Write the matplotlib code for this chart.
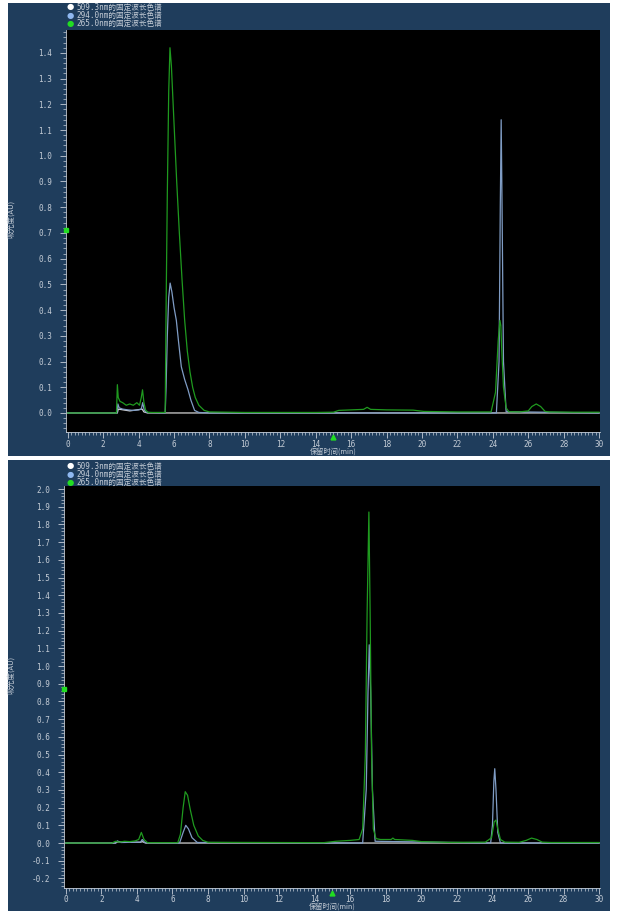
import matplotlib
matplotlib.use("Agg")
import matplotlib.pyplot as plt
import matplotlib.patches as mpatches
import matplotlib.transforms as mtransforms
from matplotlib.ticker import MultipleLocator

# ---- data (time in min, absorbance in AU) ----
legend_labels = ["509.3nm的固定波长色谱", "294.0nm的固定波长色谱", "265.0nm的固定波长色谱"]

# upper run
t1_green = [0, 2.75, 2.8, 2.85, 2.95, 3.1, 3.3, 3.5, 3.7, 3.9, 4.05, 4.15, 4.22, 4.3,
            4.4, 4.55, 5.5, 5.55, 5.62, 5.7, 5.77, 5.85, 5.95, 6.05, 6.15, 6.3, 6.45,
            6.6, 6.75, 6.9, 7.05, 7.2, 7.4, 7.7, 8.0, 10, 14, 15.0, 15.3, 16.0, 16.7,
            16.9, 17.1, 18, 19.5, 20.1, 22, 23.9, 24.15, 24.3, 24.4, 24.45, 24.5, 24.6,
            24.75, 24.9, 25.5, 26.0, 26.2, 26.45, 26.7, 26.95, 27.2, 28.5, 30]
v1_green = [0, 0, 0.11, 0.06, 0.045, 0.04, 0.03, 0.035, 0.03, 0.04, 0.03, 0.06, 0.09, 0.04,
            0.01, 0.002, 0.002, 0.4, 0.85, 1.25, 1.42, 1.35, 1.2, 1.05, 0.9, 0.7, 0.52,
            0.36, 0.24, 0.16, 0.1, 0.06, 0.03, 0.01, 0.004, 0.002, 0.002, 0.003, 0.01,
            0.012, 0.014, 0.022, 0.014, 0.012, 0.011, 0.006, 0.004, 0.004, 0.08, 0.28,
            0.36, 0.34, 0.25, 0.1, 0.02, 0.005, 0.004, 0.008, 0.025, 0.035, 0.025, 0.006,
            0.004, 0.003, 0.003]
t1_blue = [0, 2.78, 2.83, 2.9, 3.1, 3.4, 3.7, 4.0, 4.15, 4.23, 4.32, 4.45, 5.5, 5.55, 5.62,
           5.7, 5.78, 5.88, 6.0, 6.13, 6.25, 6.41, 6.6, 6.79, 6.95, 7.16, 7.4, 8, 24.2,
           24.35, 24.42, 24.47, 24.52, 24.6, 24.75, 30]
v1_blue = [0, 0, 0.035, 0.02, 0.015, 0.012, 0.01, 0.012, 0.015, 0.04, 0.01, 0.002, 0.0, 0.1,
           0.3, 0.45, 0.505, 0.47, 0.41, 0.36, 0.28, 0.18, 0.13, 0.09, 0.05, 0.01, 0.002, 0,
           0, 0.2, 0.8, 1.14, 0.8, 0.2, 0.005, 0]
t1_white = [0, 2.8, 2.85, 3.5, 4.2, 4.3, 4.5, 30]
v1_white = [0, 0, 0.015, 0.008, 0.015, 0.004, 0, 0]

# lower run
t2_green = [0, 2.6, 2.8, 3.0, 3.3, 3.6, 3.9, 4.1, 4.25, 4.4, 4.6, 6.3, 6.45, 6.6, 6.72,
            6.85, 7.0, 7.2, 7.45, 7.7, 8.0, 14.5, 15.2, 16.0, 16.5, 16.7, 16.85, 16.95,
            17.05, 17.12, 17.2, 17.3, 17.45, 17.7, 18.3, 18.4, 18.5, 19.5, 20.0, 21.5,
            23.6, 23.95, 24.1, 24.2, 24.3, 24.45, 24.7, 25.5, 25.9, 26.2, 26.5, 26.8,
            27.3, 30]
v2_green = [0, 0, 0.01, 0.005, 0.01, 0.008, 0.012, 0.02, 0.06, 0.02, 0.002, 0.002, 0.05,
            0.2, 0.29, 0.27, 0.19, 0.1, 0.04, 0.015, 0.004, 0.002, 0.01, 0.015, 0.02, 0.08,
            0.5, 1.3, 1.87, 1.3, 0.5, 0.08, 0.025, 0.02, 0.02, 0.028, 0.02, 0.015, 0.008,
            0.004, 0.005, 0.03, 0.12, 0.13, 0.08, 0.02, 0.005, 0.004, 0.015, 0.028, 0.02,
            0.005, 0.003, 0.003]
t2_blue = [0, 2.8, 2.9, 3.1, 4.2, 4.3, 4.45, 6.4, 6.6, 6.75, 6.9, 7.1, 7.4, 16.7, 16.9,
           17.0, 17.07, 17.15, 17.25, 17.4, 23.9, 24.0, 24.08, 24.13, 24.2, 24.3, 24.45, 30]
v2_blue = [0, 0, 0.012, 0.003, 0.005, 0.02, 0.002, 0, 0.06, 0.1, 0.08, 0.03, 0.003, 0, 0.3,
           0.85, 1.12, 0.85, 0.3, 0.01, 0, 0.1, 0.35, 0.42, 0.3, 0.06, 0, 0]
t2_white = [0, 2.8, 2.9, 4.2, 4.3, 4.5, 30]
v2_white = [0, 0, 0.006, 0.004, 0.008, 0, 0]

PANEL = "#1f3d5c"
TXT = "#c4ccd6"
GREEN = "#1f9a1f"
BLUE = "#7f9cc4"
WHITE = "#d4d4d4"
CJK = ["Noto Sans CJK SC", "DejaVu Sans"]
W, H = 617, 911


def px_rect(left, top, right, bottom):
    # pixel box -> figure fraction [l, b, w, h]
    return [left / W, 1 - bottom / H, (right - left) / W, (bottom - top) / H]


def draw_panel(fig, box, ax_box, ylim, ymark, traces, leg_top, xlab_y, xpad):
    l, b, w, h = px_rect(*box)
    fig.patches.append(mpatches.Rectangle((l, b), w, h, transform=fig.transFigure,
                                          facecolor=PANEL, edgecolor="none", zorder=-10))
    rect = px_rect(*ax_box)
    ax = fig.add_axes(rect)
    ax.set_zorder(1)
    ax.set_facecolor("black")
    for (t, v), c in zip(traces, [WHITE, BLUE, GREEN]):
        ax.plot(t, v, color=c, lw=0.9)
    ax.set_xlim(-0.1, 30.05)
    ax.set_ylim(*ylim)
    ax.xaxis.set_major_locator(MultipleLocator(2))
    ax.xaxis.set_minor_locator(MultipleLocator(0.2))
    ax.yaxis.set_major_locator(MultipleLocator(0.1))
    ax.yaxis.set_minor_locator(MultipleLocator(0.02))
    ax.yaxis.set_major_formatter(lambda y, p: f"{y:.1f}".replace("-0.0", "0.0"))
    ax.tick_params(colors=TXT, labelsize=5.5, length=4, width=0.6,
                   labelfontfamily="DejaVu Sans Mono")
    ax.tick_params(axis="y", pad=6)
    ax.tick_params(axis="x", pad=xpad)
    ax.tick_params(which="minor", colors=TXT, length=2, width=0.5)
    for s in ax.spines.values():
        s.set_visible(False)
    for side in ["left", "bottom"]:
        ax.spines[side].set_visible(True)
        ax.spines[side].set_color(TXT)
        ax.spines[side].set_linewidth(0.6)
    # axis titles placed in pixels, as in the instrument export
    fig.text(rect[0] + rect[2] / 2, 1 - xlab_y / H, "保留时间(min)",
             color=TXT, fontsize=5.2, ha="center", va="center", family=CJK)
    fig.text(11 / W, rect[1] + 0.53 * rect[3], "吸光度(AU)",
             color=TXT, fontsize=5.5, ha="center", va="center", rotation=90, family=CJK)
    # green cursor markers on the axes
    tx = mtransforms.blended_transform_factory(ax.transData, ax.transAxes)
    ax.plot([15], [-0.012], marker="^", ms=3.5, color="#22dd22", transform=tx,
            clip_on=False, zorder=5)
    ty = mtransforms.blended_transform_factory(ax.transAxes, ax.transData)
    ax.plot([0.0], [ymark], marker="s", ms=3, color="#22dd22", transform=ty,
            clip_on=False, zorder=5)
    # legend rows
    for i, (lab, c) in enumerate(zip(legend_labels, ["white", "#8fb8f0", "#22dd22"])):
        yy = 1 - (leg_top + 8.3 * i) / H
        fig.text(70 / W, yy, "●", color=c, fontsize=6, va="center", ha="center")
        fig.text(76 / W, yy, lab, color=TXT, fontsize=5.5, va="center",
                 family=["DejaVu Sans Mono", "Noto Sans CJK SC"])
    return ax


fig = plt.figure(figsize=(W / 100, H / 100), dpi=100)
fig.patch.set_facecolor("white")

draw_panel(fig, (8, 3, 610, 456), (66, 30, 600, 432), (-0.074, 1.489), 0.71,
           [(t1_white, v1_white), (t1_blue, v1_blue), (t1_green, v1_green)], 7, 451.5, 2)
draw_panel(fig, (8, 460, 610, 911), (64, 486, 600, 888), (-0.254, 2.017), 0.87,
           [(t2_white, v2_white), (t2_blue, v2_blue), (t2_green, v2_green)], 466, 907, 1)

fig.savefig("out.png", dpi=100, facecolor=fig.get_facecolor())
